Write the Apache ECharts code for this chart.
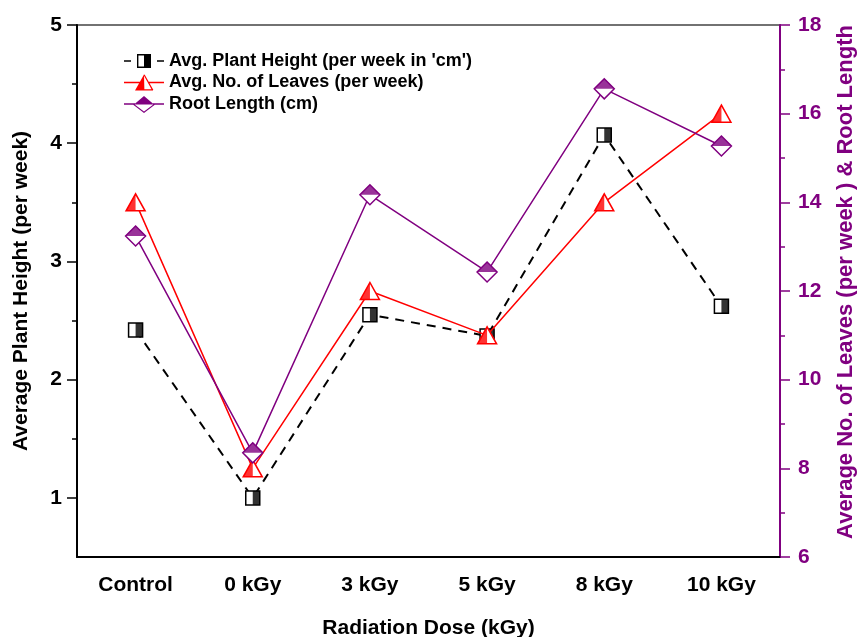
<!DOCTYPE html>
<html>
<head>
<meta charset="utf-8">
<title>Radiation dose</title>
<script src="https://cdn.jsdelivr.net/npm/echarts@6/dist/echarts.min.js"></script>
<style>
  html, body { margin: 0; padding: 0; background: #fff; }
  #main { width: 858px; height: 637px; }
</style>
</head>
<body>
<div id="main"></div>
<script>
// data
var categories = ['Control', '0 kGy', '3 kGy', '5 kGy', '8 kGy', '10 kGy'];
var plantHeight = [2.42, 1.00, 2.55, 2.37, 4.07, 2.62];   // left axis
var leaves = [14, 8, 12, 11, 14, 16];                     // right axis
var rootLength = [13.24, 8.35, 14.17, 12.43, 16.56, 15.27]; // right axis

var leftLabels = [1, 2, 3, 4, 5];
var leftMinor = [1.5, 2.5, 3.5, 4.5];

var FONT = "'Liberation Sans', Arial, sans-serif";
var PURPLE = '#800080';
var RED = '#ff0000';

// [index, value] pairs for the overlay scatters
function pairs(arr) {
  return arr.map(function (v, i) { return [i, v]; });
}

// legend icons: 40x20 boxes, corners pinned so every icon scales the same.
// outlines are built from thin strips (all clockwise) instead of holes
var PIN = 'M0,0L0.01,0L0.01,0.01L0,0.01Z M39.99,19.99L40,19.99L40,20L39.99,20Z ';
var SQ_ICON = 'path://' + PIN +
  'M0,9.3L7,9.3L7,10.7L0,10.7Z ' +
  'M33,9.3L40,9.3L40,10.7L33,10.7Z ' +
  'M20,3L27,3L27,17L20,17Z ' +
  'M13,3L20.5,3L20.5,4.4L13,4.4Z ' +
  'M13,15.6L20.5,15.6L20.5,17L13,17Z ' +
  'M13,3.5L14.4,3.5L14.4,16.5L13,16.5Z';
var TRI_ICON = 'path://' + PIN +
  'M0,9.3L16,9.3L16,10.7L0,10.7Z ' +
  'M24,9.3L40,9.3L40,10.7L24,10.7Z ' +
  'M20,2L20.4,18L11,18Z ' +
  'M19.6,2.6L20.6,2L29.4,17.6L28.2,18Z ' +
  'M19.8,16.7L29,16.7L29,18L19.8,18Z';
var DIA_ICON = 'path://' + PIN +
  'M0,9.3L11,9.3L11,10.7L0,10.7Z ' +
  'M29,9.3L40,9.3L40,10.7L29,10.7Z ' +
  'M10,10.4L20,2L30,10.4Z ' +
  'M30,10L30.8,10.8L20,19L20,17.4Z ' +
  'M20,17.4L20,19L9.2,10.8L10,10Z';

var chart = echarts.init(document.getElementById('main'));

var labelFont = { fontFamily: FONT, fontWeight: 'bold', fontSize: 21 };

var option = {
  backgroundColor: '#fff',
  animation: false,
  grid: {
    left: 77, right: 78, top: 25, bottom: 80,
    outerBoundsMode: 'none',
    containLabel: false,
    show: true, borderColor: '#444', borderWidth: 1.5
  },
  legend: {
    orient: 'vertical',
    left: 124, top: 51,
    padding: 0,
    itemWidth: 40, itemHeight: 20,
    itemGap: 1.5, itemTextGap: 7,
    selectedMode: false,
    textStyle: { fontFamily: FONT, fontWeight: 'bold', fontSize: 18, color: '#000' },
    data: [
      { name: "Avg. Plant Height (per week in 'cm')", icon: SQ_ICON, itemStyle: { color: '#000', borderWidth: 0 } },
      { name: 'Avg. No. of Leaves (per week)', icon: TRI_ICON, itemStyle: { color: RED, borderWidth: 0 } },
      { name: 'Root Length (cm)', icon: DIA_ICON, itemStyle: { color: PURPLE, borderWidth: 0 } }
    ]
  },
  xAxis: {
    type: 'category',
    data: categories,
    boundaryGap: true,
    name: 'Radiation Dose (kGy)',
    nameLocation: 'middle',
    nameGap: 61,
    nameTextStyle: Object.assign({ color: '#000' }, labelFont),
    axisLine: { lineStyle: { color: '#000', width: 2 } },
    axisTick: { alignWithLabel: true, length: 10, lineStyle: { color: '#000', width: 1.5 } },
    axisLabel: Object.assign({ color: '#000', margin: 18 }, labelFont),
    splitLine: { show: false }
  },
  yAxis: [
    {
      type: 'value',
      position: 'left',
      min: 0.5, max: 5, interval: 0.5,
      name: 'Average Plant Height (per week)',
      nameLocation: 'middle',
      nameGap: 45,
      nameTextStyle: Object.assign({ color: '#000' }, labelFont),
      axisLine: { show: true, lineStyle: { color: '#000', width: 2 } },
      axisTick: { show: true, length: 10, customValues: leftLabels, lineStyle: { color: '#000', width: 1.5 } },
      axisLabel: Object.assign({ color: '#000', margin: 15, customValues: leftLabels }, labelFont),
      splitLine: { show: false }
    },
    {
      type: 'value',
      position: 'right',
      min: 6, max: 18, interval: 2,
      name: 'Average No. of Leaves (per week ) & Root Length',
      nameLocation: 'middle',
      nameGap: 55,
      nameTextStyle: Object.assign({ color: PURPLE, padding: [0, 0, 0, 18] }, labelFont, { fontSize: 22 }),
      axisLine: { show: true, lineStyle: { color: PURPLE, width: 2 } },
      axisTick: { show: true, length: 10, lineStyle: { color: PURPLE, width: 1.5 } },
      minorTick: { show: true, splitNumber: 2, length: 5, lineStyle: { color: PURPLE, width: 1.5 } },
      axisLabel: Object.assign({ color: PURPLE, margin: 18 }, labelFont),
      splitLine: { show: false },
      minorSplitLine: { show: false }
    },
    {
      // short half-unit ticks on the left axis
      type: 'value',
      position: 'left',
      min: 0.5, max: 5, interval: 0.5,
      axisLine: { show: false },
      axisTick: { show: true, length: 5, customValues: leftMinor, lineStyle: { color: '#000', width: 1.5 } },
      axisLabel: { show: false },
      splitLine: { show: false }
    }
  ],
  series: [
    {
      name: "Avg. Plant Height (per week in 'cm')",
      type: 'line',
      yAxisIndex: 0,
      data: plantHeight,
      symbol: 'rect',
      symbolSize: 14,
      showAllSymbol: true,
      lineStyle: { color: '#000', width: 2, type: [9, 7] },
      itemStyle: { color: '#fff', borderColor: '#000', borderWidth: 1.5 },
      emphasis: { disabled: true }
    },
    {
      name: 'heightHalf',
      type: 'scatter',
      z: 5,
      yAxisIndex: 0,
      data: pairs(plantHeight),
      symbol: 'rect',
      symbolSize: [7, 14],
      symbolOffset: [3.5, 0],
      itemStyle: { color: '#000' },
      silent: true
    },
    {
      name: 'Avg. No. of Leaves (per week)',
      type: 'line',
      z: 6,
      yAxisIndex: 1,
      data: leaves,
      symbol: 'triangle',
      symbolSize: [19, 17],
      showAllSymbol: true,
      lineStyle: { color: RED, width: 1.5 },
      itemStyle: { color: '#fff', borderColor: RED, borderWidth: 1.5 },
      emphasis: { disabled: true }
    },
    {
      name: 'leavesHalf',
      type: 'scatter',
      z: 7,
      yAxisIndex: 1,
      data: pairs(leaves),
      symbol: 'path://M1,0L1,1L0,1Z',
      symbolSize: [9.5, 17],
      symbolOffset: [-4.75, 0],
      itemStyle: { color: RED },
      silent: true
    },
    {
      name: 'Root Length (cm)',
      type: 'line',
      z: 8,
      yAxisIndex: 1,
      data: rootLength,
      symbol: 'diamond',
      symbolSize: 20,
      showAllSymbol: true,
      lineStyle: { color: PURPLE, width: 1.5 },
      itemStyle: { color: '#fff', borderColor: PURPLE, borderWidth: 1.5 },
      emphasis: { disabled: true }
    },
    {
      name: 'rootHalf',
      type: 'scatter',
      z: 9,
      yAxisIndex: 1,
      data: pairs(rootLength),
      symbol: 'path://M0,1L1,0L2,1Z',
      symbolSize: [20, 10],
      symbolOffset: [0, -5],
      itemStyle: { color: PURPLE },
      silent: true
    }
  ]
};

chart.setOption(option);
</script>
</body>
</html>
